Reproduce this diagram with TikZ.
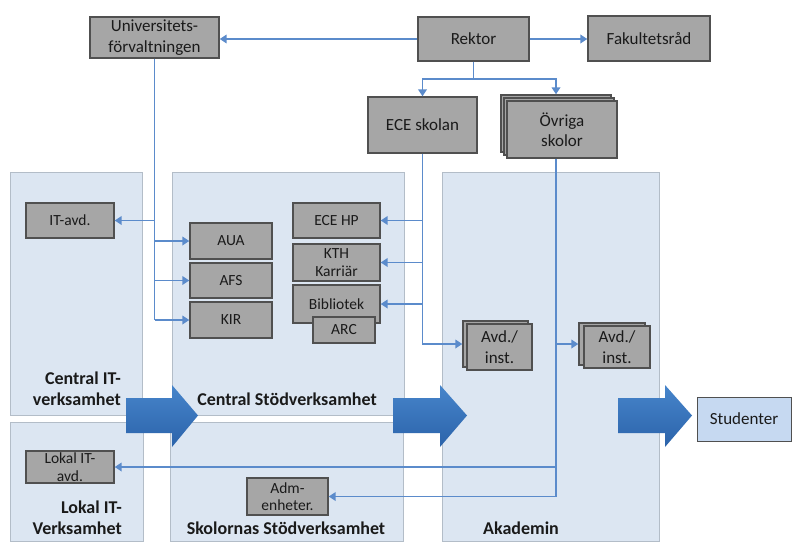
\documentclass[tikz,border=0pt]{standalone}
\usepackage{fontspec}
\setmainfont{Carlito}
\usetikzlibrary{arrows.meta,calc}
\definecolor{boxfill}{HTML}{A6A6A6}
\definecolor{boxline}{HTML}{505050}
\definecolor{panelfill}{HTML}{DCE6F2}
\definecolor{panelline}{HTML}{B3BDC8}
\definecolor{conncol}{HTML}{5B8BCB}
\definecolor{studfill}{HTML}{C6D9F1}
\definecolor{arrtop}{HTML}{4785CB}
\definecolor{arrbot}{HTML}{2B63AA}
\definecolor{txt}{HTML}{1A1A1A}
\begin{document}
\begin{tikzpicture}[x=1pt,y=-1pt,
  gbox/.style={draw=boxline, fill=boxfill, line width=1.3pt, inner sep=0pt, align=center, text=txt, font=\fontsize{17}{20.5}\selectfont},
  sbox/.style={gbox, font=\fontsize{15.5}{17.5}\selectfont},
  panel/.style={draw=panelline, fill=panelfill, line width=1pt},
  conn/.style={draw=conncol, line width=1.8pt},
  arr/.style={conn, -{Triangle[width=8.5pt,length=7pt]}},
  lbl/.style={font=\bfseries\fontsize{18}{21}\selectfont, inner sep=0pt, text=txt},
  bigarrow/.style={top color=arrtop, bottom color=arrbot, draw=none}
]
\useasboundingbox (0,0) rectangle (792,541);
\fill[white] (0,0) rectangle (792,541);

% panels
\draw[panel] (10,172) rectangle (142,415);
\draw[panel] (172,172) rectangle (404,415);
\draw[panel] (10,422) rectangle (143,541);
\draw[panel] (170,422) rectangle (403,541);
\draw[panel] (442,172) rectangle (659,541);

% top nodes
\node[gbox, minimum width=129, minimum height=41] (univ) at (154.5,37.5) {Universitets-\\förvaltningen};
\node[gbox, minimum width=111, minimum height=44] (rektor) at (473.5,39) {Rektor};
\node[gbox, minimum width=122, minimum height=45] (fak) at (649,38.5) {Fakultetsråd};
\node[gbox, minimum width=109, minimum height=56] (ece) at (422.5,125) {ECE skolan};
\node[gbox, minimum width=110, minimum height=57] (ovrc) at (556,123.5) {};
\node[gbox, minimum width=110, minimum height=57] (ovrm) at (559,126.5) {};
\node[gbox, minimum width=110, minimum height=57] (ovr) at (562,129.5) {Övriga\\skolor};

% inner nodes
\node[sbox, minimum width=88, minimum height=35] (itavd) at (70,220.5) {IT-avd.};
\node[sbox, minimum width=82, minimum height=36] (aua) at (231,241) {AUA};
\node[sbox, minimum width=82, minimum height=35] (afs) at (231,280.5) {AFS};
\node[sbox, minimum width=82, minimum height=36] (kir) at (231,320) {KIR};
\node[sbox, minimum width=87, minimum height=35] (ecehp) at (336.5,220.5) {ECE HP};
\node[sbox, minimum width=87, minimum height=37] (kth) at (336.5,262.5) {KTH\\Karriär};
\node[sbox, minimum width=87, minimum height=38] (bib) at (336.5,304) {Bibliotek};
\node[sbox, minimum width=62, minimum height=26] (arc) at (344,330) {ARC};
\node[gbox, minimum width=65, minimum height=46] (avd1b) at (495.5,344) {};
\node[gbox, minimum width=65, minimum height=46] (avd1) at (499.5,347) {Avd./\\inst.};
\node[gbox, minimum width=66, minimum height=42] (avd2b) at (612,344) {};
\node[gbox, minimum width=66, minimum height=42] (avd2) at (617,347) {Avd./\\inst.};
\node[sbox, minimum width=88, minimum height=32] (lokalit) at (70,467) {Lokal IT-\\avd.};
\node[sbox, minimum width=81, minimum height=37] (adm) at (287.5,496.5) {Adm-\\enheter.};
\node[draw=boxline, fill=studfill, line width=1pt, minimum width=94, minimum height=44, inner sep=0pt, text=txt, font=\fontsize{17}{20.5}\selectfont] (stud) at (744,419) {Studenter};

% connectors
\draw[arr] (rektor.west) -- (rektor.west -| univ.east);
\draw[arr] (rektor.east) -- (rektor.east -| fak.west);
\coordinate (rk) at ($(rektor.south)+(0,17)$);
\draw[conn] (rektor.south) -- (rk);
\draw[arr] (rk) -| (ece.north);
\draw[arr] (rk) -| (ovrc.north);

\draw[conn] (univ.south) -- (univ.south |- kir.west);
\draw[arr] (univ.south |- itavd.east) -- (itavd.east);
\draw[arr] (univ.south |- aua.west) -- (aua.west);
\draw[arr] (univ.south |- afs.west) -- (afs.west);
\draw[arr] (univ.south |- kir.west) -- (kir.west);

\draw[arr] (ece.south) |- (avd1b.west);
\draw[arr] (ece.south |- ecehp.east) -- (ecehp.east);
\draw[arr] (ece.south |- kth.east) -- (kth.east);
\draw[arr] (ece.south |- bib.east) -- (bib.east);

\coordinate (ob) at (ovr.south -| ovrc.north);
\draw[conn] (ob) -- (ob |- adm.east);
\draw[arr] (ob |- avd2b.west) -- (avd2b.west);
\draw[arr] (ob |- lokalit.east) -- (lokalit.east);
\draw[arr] (ob |- adm.east) -- (adm.east);

% big arrows
\shade[bigarrow] (126,398) -- (172,398) -- (172,385) -- (198,415.5) -- (172,447) -- (172,433) -- (126,433) -- cycle;
\shade[bigarrow] (393,398) -- (440,398) -- (440,385) -- (467,415.5) -- (440,447) -- (440,433) -- (393,433) -- cycle;
\shade[bigarrow] (618,398) -- (665,398) -- (665,385) -- (692,415.5) -- (665,447) -- (665,433) -- (618,433) -- cycle;

% panel labels
\node[lbl, align=right, anchor=east] (lcit) at (121,388.5) {Central IT-\\verksamhet};
\node[lbl] (lcs) at (287,399) {Central Stödverksamhet};
\node[lbl, align=right, anchor=east] (llit) at (122,517.5) {Lokal IT-\\Verksamhet};
\node[lbl] (lss) at (286,528) {Skolornas Stödverksamhet};
\node[lbl] (lak) at (521,528) {Akademin};
\end{tikzpicture}
\end{document}
